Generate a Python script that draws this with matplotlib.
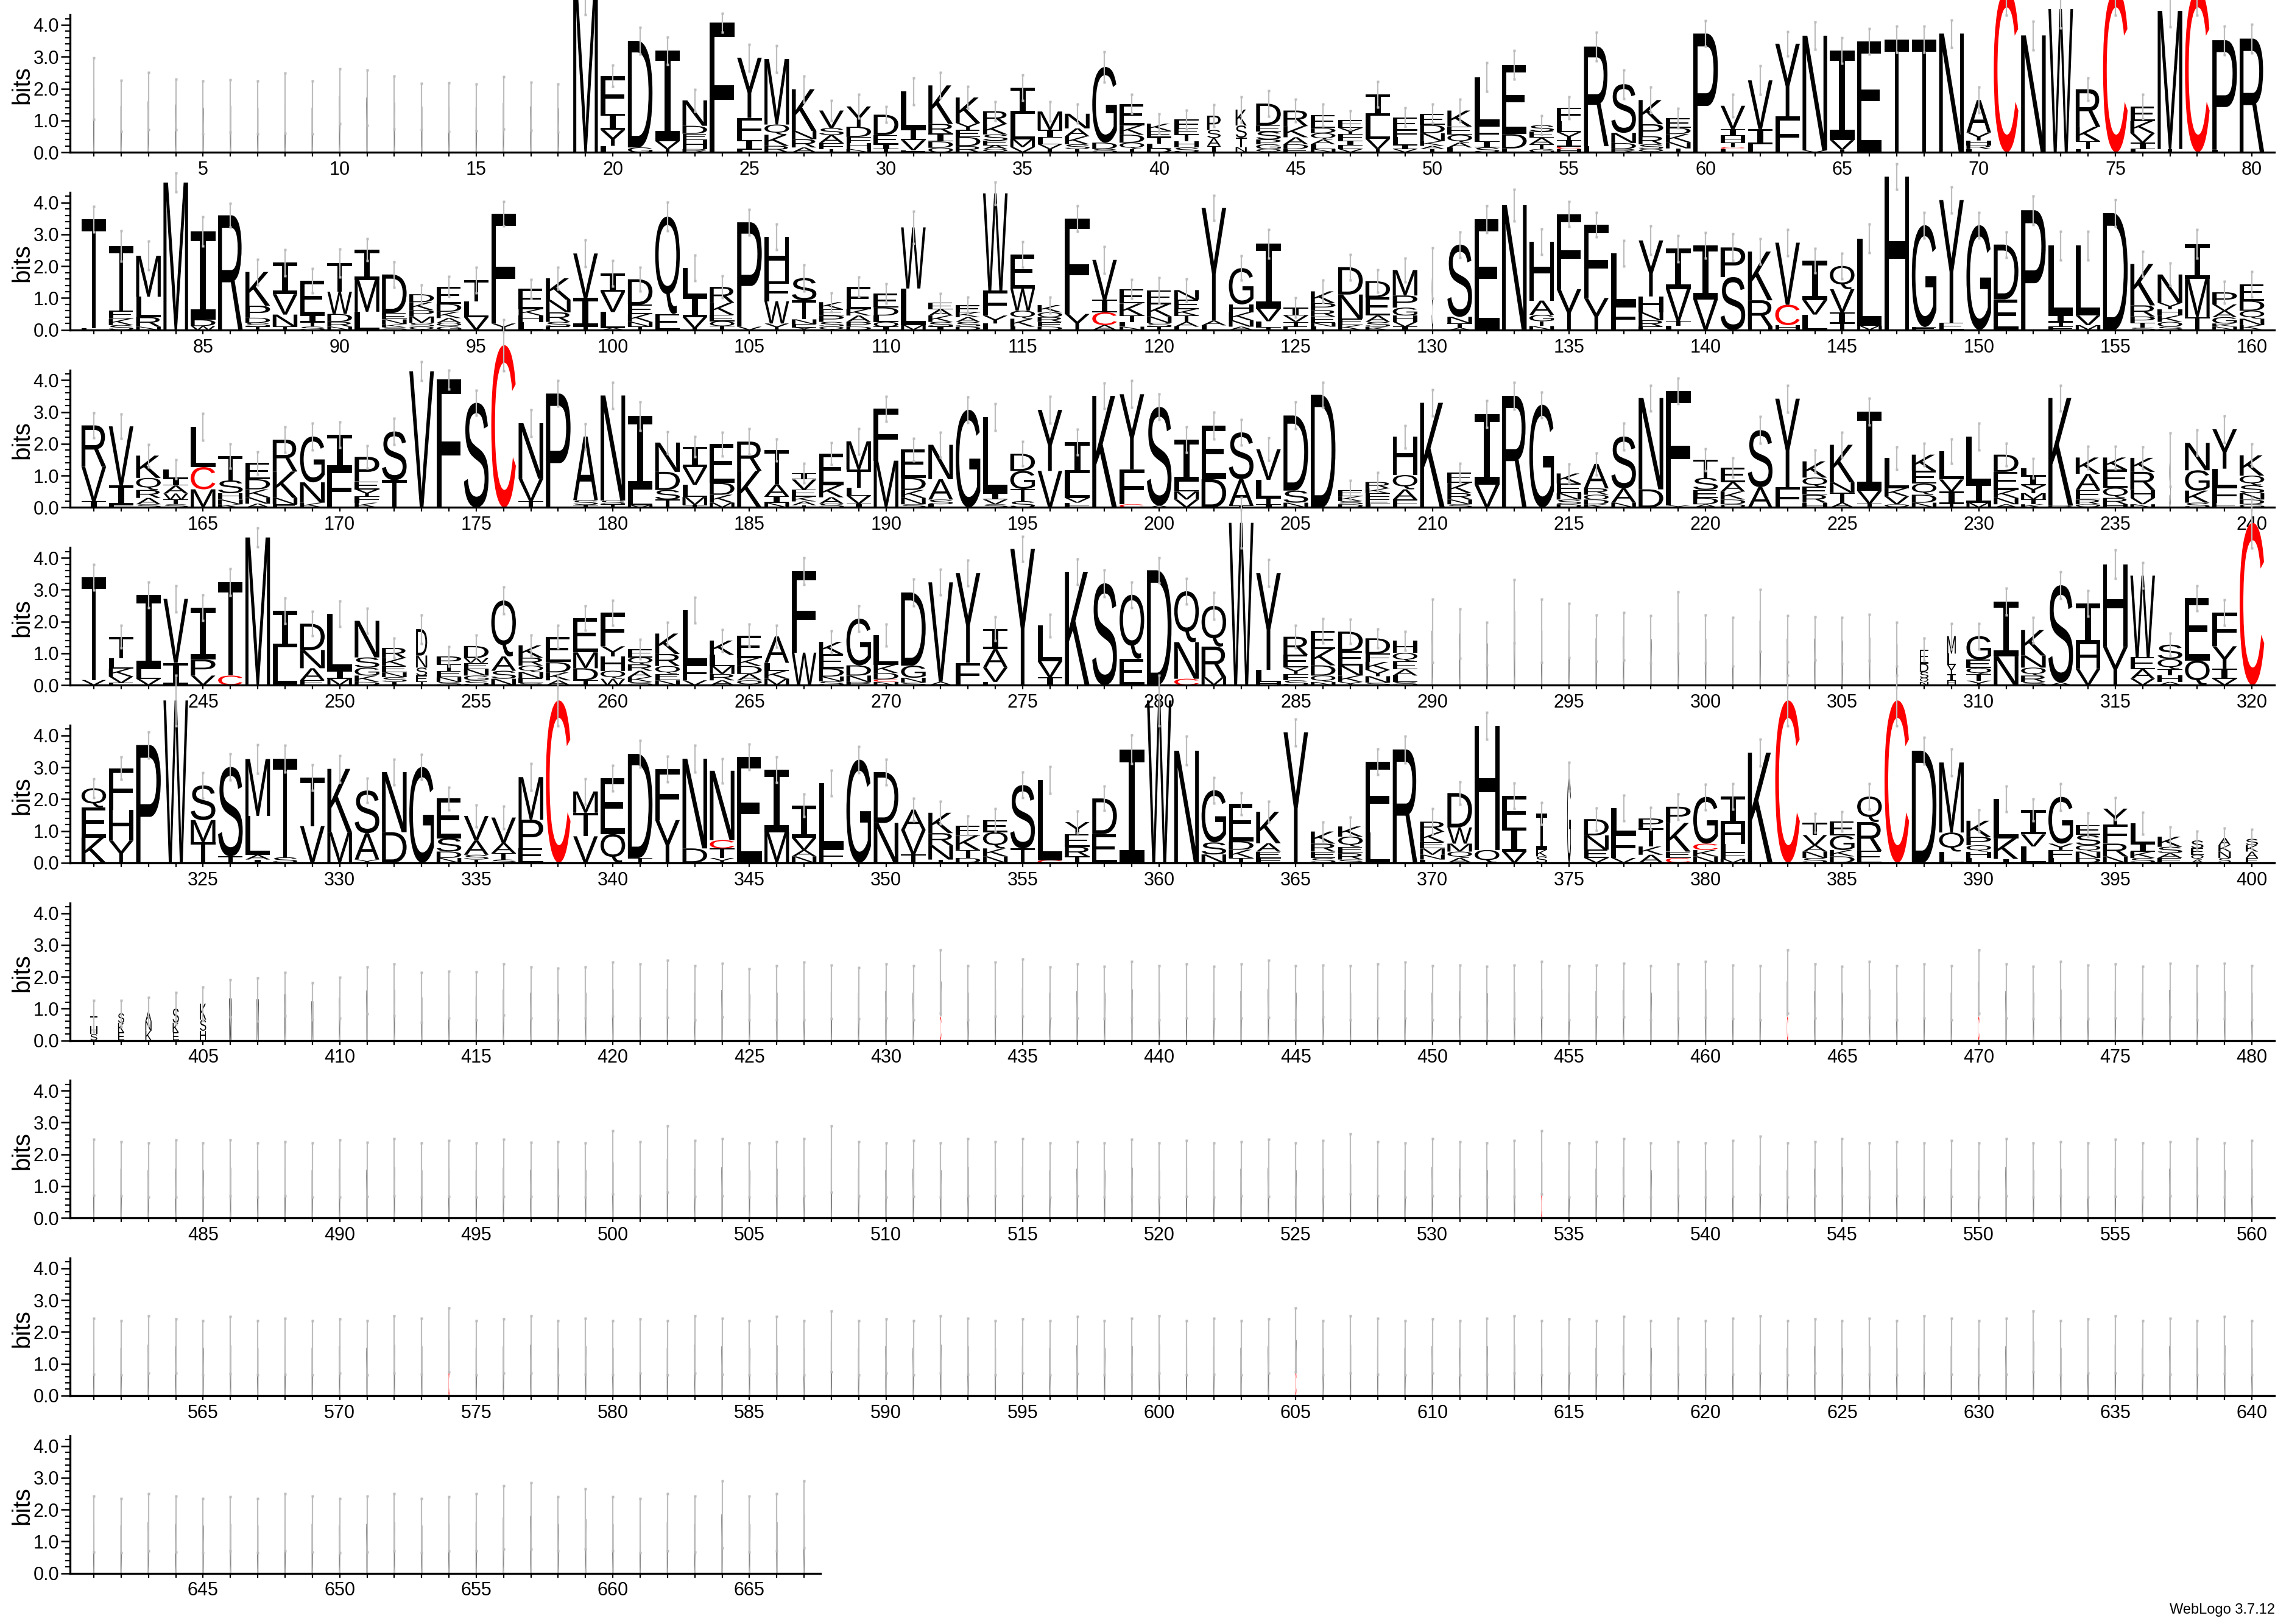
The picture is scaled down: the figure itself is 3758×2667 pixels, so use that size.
import re
import matplotlib
matplotlib.use("Agg")
import matplotlib.pyplot as plt
from matplotlib.textpath import TextPath
from matplotlib.patches import PathPatch
from matplotlib.font_manager import FontProperties
from matplotlib.transforms import Affine2D
from matplotlib.ticker import FixedLocator, MultipleLocator, FuncFormatter

# one token per column, letters listed top -> bottom, each followed by its height in bits
stacks_001_080 = """
M2.0 M1.45 M1.6 M1.5 M1.4 M1.46 M1.4 M1.54 M1.4 M1.76
M1.72 M1.56 M1.43 M1.42 M1.41 M1.55 M1.44 M1.39 M5.1 F1.2I.5Y.5L.2
D3.35G.15 I2.84V.25T.1 N.8D.25E.2H.28R.1 F4.07 Y1.89F.7I.3L.08 M2.06Q.32K.35R.2 K1.31N.26R.26A.15 V.55S.22A.25F.19T.1 Y.64D.32F.19H.19N.1 D.64E.29I.15T.1
L1.18I.35V.32F.06 K1.21R.3I.25D.2O.14 K.8Y.22E.22D.29R.19 R.41K.32S.2E.14A.12Q.1 I.83L.79M.25V.16 M.58I.25L.2V.15T.1 N.46A.25K.25S.15T.1 G2.38D.2S.1 E.68K.29D.25Q.2T.1 K.23E.2T.2L.15D.12
F.28E.2T.2H.2S.15 P.45S.25A.25I.2 K.5S.38T.3N.16 D.68E.2S.25P.15G.15Q.1 R.49K.35A.22D.15E.1 E.41D.16Q.2A.15L.15N.1 E.25Y.19F.2I.15L.12V.1 I.67L.73V.32T.1 E.41F.22L.25I.12V.1 E.35D.26N.25K.15A.1T.1
K.5E.26Q.25A.15L.15 L1.5F.51I.2S.15 E2.17D.45F.12 S.2E.2A.2T.15G.1 F.42L.35Y.25I.2C.08H.1 R3.13L.19 S1.53N.32D.19R.1 K.76P.38R.25S.15Q.1 E.3D.2K.25N.2T.12 P3.73
V.73I.22H.2T.15C.06L.1 V1.53I.48L.25 Y2.29F1.12 N3.6V.06 I2.81V.3T.08 E3.48 T3.55 T3.55 N3.73 A1.02Y.25H.15R.12L.1
C5.1 N3.67 W4.5 R1.18K.45T.25L.1 C5.1 E.45K.38V.3I.2L.1 M4.34T.1 C5.1 P3.44L.08 R3.57
"""

stacks_081_160 = """
T3.42L.06 T2.04E.25K.2S.15 M1.29L.64R.3N.1 M4.63 I2.78D.2W.12 R3.6 K1.06P.38D.16S.12T.1 I.99V.64N.38T.1 E1.1I.2T.15S.1 T.9W.7D.25R.15N.1
I.95M1.0L.57 D1.21E.2N.15K.1S.08 D.25K.25P.2M.2S.12Q.1 E.54D.25K.2A.15Q.12G.1 T.66L.5V.4 F3.45Y.2 E.64K.2H.2L.25 K.67N.4R.3S.15E.1 V1.4I.9T.1 I.57V.64L.5A.06
D.8E.29K.25N.15T.1 Q3.06E.5 L.9I.65V.35T.05 R.5K.38E.2O.15T.12 P3.28V.1 H1.4F.62W.7Y.2 S.7T.6N.15E.1Y.08 K.22E.2P.2S.15Q.1 E.7K.2A.2P.15D.1 E.44D.25L.2O.15I.1
W1.92L1.15M.15 E.2A.2K.2S.15I.1 E.22K.15A.15S.15D.1 W3.06F.78Y.25L.2 E1.06W.7Q.25K.25L.1 K.23O.15R.15E.15D.1 F3.0Y.5 V1.25I.4C.4A.15 E.45K.38T.2L.15N.1 E.44K.38N.2S.12T.1
N.3E.3K.2T.2A.15L.1 Y3.54A.15L.14 G1.14H.25K.25N.2A.1 I2.04V.4L.2T.07 I.25V.2T.15E.1 K.37P.22R.2E.2N.12L.1 D.86N.76E.2K.15 D.51E.57A.2S.15K.1 M.8P.38G.25H.2V.15I.1 S1.78
S2.27N.2T.15A.06 E3.48 N3.92 H1.85A.45G.2T.15N.12 F2.36Y1.28 F2.3Y1.0 L1.6F.8 Y1.76H.5N.25R.2E.1 I1.27V1.0T.15L.13 I1.69V.96
P.93S1.66 K1.53R.83H.1 V1.95C.64H.15 I1.24V.45L.48 Q.73V.73I.35T.2 L2.74M.13 H4.82 G3.2E.09 Y3.86E.22 G3.29
D1.72E.96 P3.76 L2.2I.2T.15F.1 L2.2V.3M.15 D3.67 K1.3R.35P.2T.15S.07 N.89Y.2H.2K.2O.15S.1 I1.1M1.2T.4 P.38V.2A.2G.2K.1N.1 E.51D.32Q.25N.2K.15
"""

stacks_161_240 = """
R1.3V1.08I.2 V1.85I.64L.06 K.7Q.38R.25A.2S.1 L.29I.22A.25W.19T.15S.1 L1.27C.7M.57 T.76S.4H.2N.15K.1 E.51D.32K.25N.2A.12 R1.0K.83N.2E.1 G1.44N.64K.15 I1.08F1.21
P.77E.25Y.22F.2K.15 S1.53T.86 V4.28 F4.02 S3.29 C5.1 N1.75V.7T.2 P3.58 A2.0S.15T.08 N3.3S.12T.1
I2.3L.5M.07 N.92D.57S.3T.25 I.63V.57L.38M.25T.08 E1.21D.38K.25M.15 R.92K1.15 T1.08A.38I.2N.15 I.2V.32E.22K.15A.12T.07 E.99K.38A.2S.12 M.89T.57L.25V.25I.12 F1.63M1.47
E.89D.38K.25N.2S.1 N1.08A.64S.15L.1 G3.07 L2.39I.2V.15S.1 D.54G.57T.38S.2 Y1.92V1.15 I.99L.77V.15F.15 K3.51 Y2.36F1.1C.1 S3.1A.06
I1.31L.32M.25V.25 E1.69D.89 S1.47A.83T.06 V.96L.57T.2I.1 D2.36S.38N.15 D3.54 E.2K.15S.1D.1 R.2K.15F.2E.15L.1 H1.2Q.45A.32F.25 K3.29
E.32K.32R.2N.15S.1 I2.23V.71 R3.51 G3.23 K.32E.3N.2S.15D.1 A.77R.2O.15D.15K.1 S1.63A.45N.15 N2.87D.57 F3.6Y.07 T.57S.38E.25D.2A.1
E.45A.3K.25D.15O.1 S1.79A.64 Y2.78F.64 K.51Q.29E.25R.25H.15 K1.18N.32T.32A.15 I2.49V.4T.12 L.95K.25V.25Q.1 K.51E.4Q.35D.25N.15 L.89V.38I.38T.12 L1.47I.6M.15
D.54E.57K.25N.2A.1 L.23I.3Y.25M.2T.15K.1 K3.38R.06 K.51A.51E.3R.15Q.1 K.38E.57Q.32R.2H.1 K.44R.57H.25V.2N.1 S1.5 N.86G.64K.38S.15 Y1.24L.57F.5E.15 K.64Q.3S.25N.2D.15G.1
"""

stacks_241_320 = """
T3.23V.16 T.68L.32K.25V.2E.07 I2.34L.3V.2 V2.01I.7 I1.64P.5V.3 T2.93C.3 M4.64 I1.15L1.18 D.83N.57A.38E.15 L1.79I.25M.2
N1.15S.32G.25K.2D.1 R.32K.25E.2N.15S.15T.1 D.83N.38S.25E.2T.1 P.25T.2E.2N.15S.1 D.38W.15E.2N.2G.15S.15 Q1.76A.45S.25N.2 K.39R.25Q.2N.2E.15S.06 E.8D.32K.25A.15 E1.08M.5D.38T.15 F1.05Y.32H.45Q.25W.2
E.26Q.22R.2A.2K.15S.1 K.64R.38Q.25E.2N.15 L1.7F.5V.15 K.45L.35M.25R.2A.15 E.71K.25D.25A.2Q.15 A.83L.25K.25M.2 F2.56W1.02 K.39E.45D.25N.15S.12 G1.47D.32N.2P.1 L.93K.26D.2C.08N.1
D2.3G.38N.15S.08 V3.13A.1 Y2.82F.7 I.64A.58V.45L.1 Y4.28 L1.12V.5I.25 K3.56 S3.2 Q2.01E.83 D3.61
Q1.6N1.15C.2 Q1.28R.96M.25 W5.1 Y3.04L.38H.1 R.57E.4Y.2F.2S.15 E.58K.51D.32Q.2N.1 D.61E.45N.32K.2Y.1 D.48F.26K.25Y.2N.2S.08 H.38Q.26E.25A.2L.2S.1 M1.71
M1.62 M1.31 M2.32 M1.71 M1.72 M1.47 M1.53 M1.44 M1.96 M1.45
M1.36 M2.03 M1.46 M1.46 M1.4 M1.49 M1.28 E.45D.25S.2Q.12N.1 M.55L.35Y.3I.2H.14 G.74E.26Q.2T.2Y.14
I1.72N.9 K.8N.38Q.25R.2S.1 S3.06A.08 I1.28H.77V.51 H2.6Y1.2 W2.56E.38A.3V.2 S.45Q.32T.2H.2A.1 E1.96Q.77 F1.06Y.7I.32V.2 C5.1
"""

stacks_321_400 = """
Q.6E.95K.79 F1.31H.96Y.7 P3.7 W5.1 S1.09M.7T.64 S2.81T.2 M1.79L1.22A.15I.1 T3.1S.17 T1.53V1.15 K1.99M.96
S1.34A.83Y.1 N1.89D.96 G3.01 E1.25S.42D.2N.15 V.77A.45S.15T.1 V.8A.32T.2S.1 M1.34P.9E.45 C5.1 M.67T.74V.83 E1.76Q.9
D3.27T.15 F1.6Y1.34 N2.82D.45 N2.18C.26T.3Y.15 E3.33 I1.96M.96 I1.02V.38A.2N.2 L2.05F.45 G3.24 D1.6N1.25
A.64V.77T.26 K.64R.38N.45T.1 E.32K.45T.25D.15 E.38Q.51K.25N.2 S1.99T.45 L2.52C.08 Y.38E.4R.3T.2 D1.12E.9 I3.56 W5.1
N3.52 G1.64S.38N.26 E1.18D.26K.26T.15 K.99A.26E.2F.15 Y4.1 K.38R.25E.2S.15 K.32Q.32E.2R.2S.1 F2.21L.96 R3.56 R.32K.32E.2M.2N.15L.1
D1.08W.51M.25Q.2A.15 H3.9Q.4 F1.0I.75V.35 I1.15K.2S.2 G2.7 D.51N.45E.26V.15 L.8F.77V.15 P.3T.58K.26A.25 P.51K.9E.2C.15 G1.47C.2K.2N.2
I.86H.64L.26F.2M.12 K3.46 C5.1 T.38V.32A.2N.2S.15 E.45G.45K.2D.2 Q.8R.9E.38 C5.1 D3.52 M2.2Q.6L.35 K.51P.26Q.2H.2L.15
L1.25K.64I.12 I.77V.38L.51 G1.47Y.2F.25L.15 E.32S.32Q.2N.2D.15 Y.5F.6R.4N.2 L.64I.25K.2S.15 K.32S.2A.15E.15 S.25E.2Q.15A.1 A.23K.2N.2S.15 S.2K.2A.2E.15
"""

stacks_401_480 = """
T.3H.25S.2 S.3K.3E.25 A.3N.3K.3 S.45K.3E.25 K.5S.35H.3 M1.32 M1.29 M1.45 M1.23 M1.34
M1.57 M1.59 M1.35 M1.44 M1.4 M1.6 M1.5 M1.46 M1.5 M1.6
M1.55 M1.62 M1.5 M1.58 M1.45 M1.5 M1.55 M1.52 M1.48 M1.55
M1.5 M1.1C.75 M1.5 M1.6 M1.65 M1.5 M1.55 M1.5 M1.6 M1.5
M1.55 M1.5 M1.55 M1.62 M1.5 M1.55 M1.5 M1.55 M1.58 M1.5
M1.55 M1.48 M1.52 M1.6 M1.5 M1.55 M1.58 M1.5 M1.55 M1.6
M1.52 M1.5 M1.1C.75 M1.55 M1.5 M1.6 M1.5 M1.55 M1.5 M1.1C.75
M1.55 M1.5 M1.6 M1.52 M1.55 M1.5 M1.58 M1.5 M1.55 M1.5
"""

stacks_481_560 = """
M1.6 M1.55 M1.5 M1.55 M1.5 M1.58 M1.5 M1.55 M1.5 M1.55
M1.52 M1.6 M1.5 M1.55 M1.5 M1.58 M1.52 M1.55 M1.5 M1.75
M1.55 M1.85 M1.55 M1.6 M1.5 M1.55 M1.6 M1.85 M1.55 M1.5
M1.55 M1.5 M1.6 M1.55 M1.6 M1.5 M1.55 M1.5 M1.58 M1.5
M1.55 M1.5 M1.55 M1.58 M1.5 M1.55 M1.7 M1.55 M1.5 M1.6
M1.55 M1.5 M1.55 M1.0C.75 M1.5 M1.55 M1.6 M1.5 M1.55 M1.5
M1.55 M1.65 M1.5 M1.55 M1.6 M1.5 M1.55 M1.5 M1.55 M1.5
M1.6 M1.5 M1.55 M1.5 M1.58 M1.5 M1.55 M1.6 M1.5 M1.55
"""

stacks_561_640 = """
M1.55 M1.5 M1.6 M1.55 M1.5 M1.58 M1.5 M1.55 M1.5 M1.55
M1.5 M1.6 M1.55 M1.0C.75 M1.5 M1.55 M1.6 M1.5 M1.55 M1.5
M1.55 M1.5 M1.6 M1.55 M1.5 M1.58 M1.5 M1.7 M1.5 M1.55
M1.5 M1.6 M1.55 M1.5 M1.55 M1.5 M1.58 M1.5 M1.55 M1.6
M1.5 M1.55 M1.5 M1.55 M1.0C.75 M1.5 M1.6 M1.55 M1.5 M1.55
M1.5 M1.55 M1.6 M1.5 M1.55 M1.5 M1.58 M1.5 M1.55 M1.5
M1.55 M1.6 M1.5 M1.55 M1.5 M1.55 M1.5 M1.6 M1.55 M1.5
M1.55 M1.7 M1.5 M1.55 M1.6 M1.5 M1.55 M1.5 M1.58 M1.5
"""

stacks_641_667 = """
M1.55 M1.5 M1.6 M1.55 M1.5 M1.55 M1.5 M1.6 M1.55 M1.5
M1.55 M1.6 M1.5 M1.55 M1.6 M1.75 M1.8 M1.55 M1.7 M1.55
M1.5 M1.6 M1.55 M1.85 M1.55 M1.6 M1.85
"""

# half-width of the error bar of each column, in bits
err_001_080 = [.97, .8, .9, .8, .83, .82, .83, .94, .83, .87, .87, .84, .73, .76, .74, .83, .76, .76, .78, .33,
               .42, .43, .35, .3, .42, .42, .42, .32, .37, .25, .42, .4, .35, .3, .4, .3, .3, .48, .3, .3,
               .3, .35, .4, .4, .35, .35, .3, .4, .3, .3, .35, .45, .45, .3, .35, .45, .45, .4, .3, .4,
               .35, .45, .38, .43, .4, .4, .42, .42, .43, .4, .8, .45, .6, .35, .8, .38, .5, .8, .45, .45]
err_081_160 = [.4, .48, .45, .3, .46, .38, .4, .42, .38, .44, .35, .4, .3, .32, .4, .38, .3, .35, .42, .4,
               .38, .45, .4, .35, .4, .4, .42, .3, .3, .3, .5, .3, .25, .35, .4, .25, .4, .42, .3, .4,
               .35, .4, .38, .45, .3, .35, .4, .35, .38, .8, .4, .42, .5, .4, .4, .38, .4, .45, .42, .4,
               .42, .4, .42, .38, .4, .45, .4, .4, .42, .4, .4, .45, .45, .45, .42, .4, .35, .45, .35, .4]
err_161_240 = [.4, .38, .35, .3, .42, .38, .35, .4, .42, .4, .35, .42, .3, .3, .4, .8, .42, .4, .4, .42,
               .45, .35, .32, .38, .4, .35, .3, .35, .4, .4, .35, .4, .4, .42, .38, .42, .4, .4, .42, .4,
               .4, .42, .4, .35, .42, .4, .3, .3, .35, .42, .3, .42, .42, .4, .3, .35, .42, .4, .4, .35,
               .3, .42, .42, .35, .4, .42, .35, .35, .38, .42, .35, .3, .4, .35, .35, .35, .85, .4, .42, .35]
err_241_320 = [.4, .35, .4, .42, .4, .42, .3, .4, .38, .4, .4, .3, .45, .3, .35, .42, .32, .35, .38, .4,
               .3, .35, .4, .35, .35, .35, .42, .35, .4, .35, .42, .4, .4, .38, .4, .35, .4, .42, .4, .4,
               .4, .42, .8, .42, .35, .38, .38, .3, .3, 1.0, .78, .67, 1.0, 1.0, .85, .73, .74, .75, .97, .75,
               .77, .98, .73, .68, .73, .73, .69, .35, .4, .4, .42, .4, .42, .4, .45, .4, .35, .4, .4, .8]
err_321_400 = [.3, .35, .42, .8, .4, .42, .45, .42, .4, .42, .38, .4, .4, .35, .35, .35, .42, .8, .4, .4,
               .42, .4, .42, .38, .4, .4, .35, .4, .42, .4, .35, .35, .3, .35, .4, .42, .35, .38, .45, .8,
               .45, .4, .35, .32, .42, .3, .3, .4, .42, .4, .35, .42, .4, .35, .45, .35, .4, .35, .4, .4,
               .4, .42, .8, .3, .3, .4, .8, .42, .42, .35, .4, .35, .42, .38, .35, .35, .3, .3, .3, .3]
err_401_480 = [.5, .41, .44, .5, .52, .58, .68, .68, .58, .64, .73, .82, .78, .74, .76, .81, .8, .81, .8, .85,
               .85, .9, .85, .85, .8, .85, .9, .85, .8, .85, .85, 1.0, .85, .85, .9, .8, .85, .82, .88, .85,
               .85, .82, .85, .9, .85, .82, .85, .85, .88, .85, .82, .85, .85, .88, .85, .82, .85, .85, .85, .88,
               .85, .85, 1.0, .85, .82, .88, .85, .85, .85, 1.0, .85, .82, .88, .85, .85, .82, .85, .85, .88, .85]
err_481_560 = [.88, .85, .85, .9, .85, .88, .85, .85, .85, .9, .85, .9, .85, .88, .85, .9, .85, .85, .85, 1.0,
               .85, 1.05, .88, .9, .85, .85, .9, 1.05, .85, .85, .88, .85, .9, .85, .9, .85, .85, .85, .9, .85,
               .88, .85, .85, .9, .85, .88, .95, .85, .85, .9, .85, .85, .88, 1.0, .85, .85, .9, .85, .85, .85,
               .88, .92, .85, .85, .9, .85, .85, .85, .88, .85, .9, .85, .85, .85, .9, .85, .85, .9, .85, .88]
err_561_640 = [.88, .85, .9, .85, .85, .9, .85, .88, .85, .85, .85, .9, .88, 1.0, .85, .85, .9, .85, .88, .85,
               .85, .85, .9, .88, .85, .9, .85, .95, .85, .85, .85, .9, .88, .85, .85, .85, .9, .85, .88, .9,
               .85, .88, .85, .85, 1.0, .85, .9, .88, .85, .85, .85, .88, .9, .85, .85, .85, .9, .85, .88, .85,
               .88, .9, .85, .85, .85, .88, .85, .9, .88, .85, .88, .95, .85, .85, .9, .85, .88, .85, .9, .85]
err_641_667 = [.88, .85, .9, .88, .85, .85, .85, .9, .88, .85, .88, .9, .85, .85, .9, 1.0, 1.05, .85, .95, .85,
               .85, .9, .88, 1.05, .88, .9, 1.05]

# fraction of sequences without a gap, where it is clearly below one (narrow letters)
occupancy = {42: .55, 43: .45, 130: .05, 237: .05, 253: .45, 308: .35, 309: .35,
             374: .45, 375: .15, 398: .5, 399: .5, 400: .5,
             401: .28, 402: .25, 403: .25, 404: .25, 405: .25, 406: .1, 407: .08,
             408: .07, 409: .07, 410: .05}
gap_runs = [(1, 18), (290, 307), (411, 667)]
gap_occupancy = 0.05

stacks_rows = [stacks_001_080, stacks_081_160, stacks_161_240, stacks_241_320, stacks_321_400,
               stacks_401_480, stacks_481_560, stacks_561_640, stacks_641_667]
err_rows = [err_001_080, err_081_160, err_161_240, err_241_320, err_321_400,
            err_401_480, err_481_560, err_561_640, err_641_667]

plt.rcParams['font.family'] = ['Liberation Sans', 'DejaVu Sans']

FIG_W, FIG_H = 3758, 2667
PX_POS = 44.85        # pixels per column
PX_BIT = 52.25        # pixels per bit
LEFT_PX = 115
ROW0_PX = 250
ROW_STEP = 291.7
YMAX = 4.32

letter_font = FontProperties(family=['Liberation Sans', 'DejaVu Sans'])
i_font = FontProperties(family='DejaVu Sans Mono')
glyphs = {}


def glyph_path(ch):
    if ch not in glyphs:
        tp = TextPath((0, 0), ch, size=1, prop=i_font if ch == 'I' else letter_font)
        glyphs[ch] = (tp, tp.get_extents())
    return glyphs[ch]


def draw_letter(ax, ch, x, y0, w, h):
    tp, bb = glyph_path(ch)
    t = Affine2D().translate(-bb.x0, -bb.y0).scale(w / bb.width, h / bb.height).translate(x - w / 2, y0)
    color = '#ff0000' if ch == 'C' else 'black'
    ax.add_patch(PathPatch(t.transform_path(tp), fc=color, ec='none', lw=0, clip_on=False, zorder=2))


def col_width(pos):
    if pos in occupancy:
        return occupancy[pos]
    for a, b in gap_runs:
        if a <= pos <= b:
            return gap_occupancy
    return 1.0


fig = plt.figure(figsize=(FIG_W / 100, FIG_H / 100), dpi=100)

first = 1
for r, (text, errs) in enumerate(zip(stacks_rows, err_rows)):
    tokens = text.split()
    n = len(tokens)
    last = first + n - 1
    xmin = first - 0.87
    xmax = last + (0.83 if n == 80 else 0.6)
    zero_y = ROW0_PX + r * ROW_STEP
    ax = fig.add_axes([LEFT_PX / FIG_W, 1 - zero_y / FIG_H,
                       (xmax - xmin) * PX_POS / FIG_W, YMAX * PX_BIT / FIG_H])
    ax.set_xlim(xmin, xmax)
    ax.set_ylim(0, YMAX)

    xs, tops = [], []
    for i, tok in enumerate(tokens):
        pos = first + i
        parts = [(c, float(v)) for c, v in re.findall(r'([A-Z])(\d*\.?\d+)', tok)]
        w = 0.9 * col_width(pos)
        y = 0.0
        for ch, h in reversed(parts):
            draw_letter(ax, ch, pos, y, w, h)
            y += h
        xs.append(pos)
        tops.append(y)

    lo = [t - e for t, e in zip(tops, errs)]
    hi = [t + e for t, e in zip(tops, errs)]
    ax.vlines(xs, lo, hi, colors='#bdbdbd', lw=1.6, zorder=3, clip_on=False)
    ax.plot(xs + xs, lo + hi, ls='none', marker='s', ms=2.6, mfc='#bdbdbd', mec='none',
            zorder=3, clip_on=False)

    for s in ('top', 'right'):
        ax.spines[s].set_visible(False)
    ax.spines['left'].set_linewidth(2.4)
    ax.spines['bottom'].set_linewidth(2.4)

    ax.xaxis.set_major_locator(FixedLocator(list(range(first, last + 1))))
    ax.xaxis.set_major_formatter(FuncFormatter(lambda v, _: str(int(round(v))) if int(round(v)) % 5 == 0 else ''))
    ax.tick_params(axis='x', direction='out', length=5, width=1.6, labelsize=22, pad=5)
    ax.yaxis.set_major_locator(FixedLocator([0, 1, 2, 3, 4]))
    ax.yaxis.set_major_formatter(FuncFormatter(lambda v, _: f'{v:.1f}'))
    ax.yaxis.set_minor_locator(MultipleLocator(0.2))
    ax.tick_params(axis='y', which='major', direction='out', length=11, width=1.8, labelsize=22, pad=2)
    ax.tick_params(axis='y', which='minor', direction='out', length=6, width=1.6)
    ax.set_ylabel('bits', fontsize=29)
    ax.yaxis.set_label_coords(-60 / ((xmax - xmin) * PX_POS), 0.49)

    first = last + 1

fig.text(3735 / FIG_W, 1 - 2650 / FIG_H, 'WebLogo 3.7.12', ha='right', va='baseline', fontsize=17)

fig.savefig('out.png', dpi=100)
